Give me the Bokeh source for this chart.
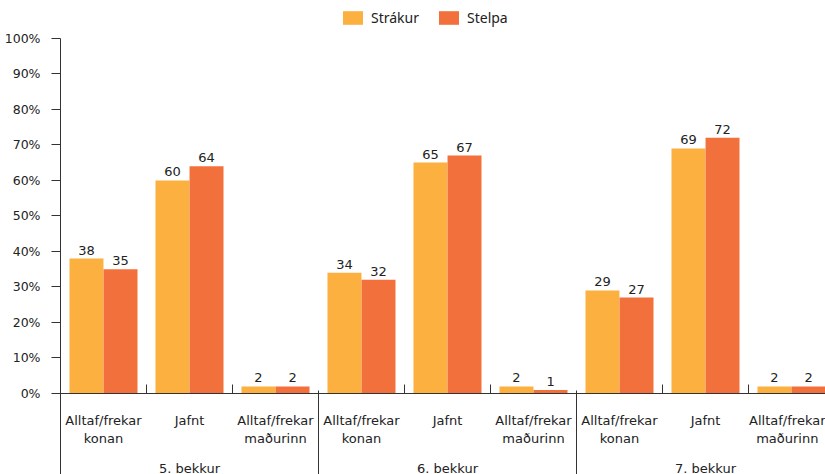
import numpy as np
from bokeh.plotting import figure
from bokeh.models import (Range1d, LinearAxis, FixedTicker, PrintfTickFormatter,
                          CustomJSTickFormatter, Legend, LegendItem, ColumnDataSource)
from bokeh.core.properties import value
from bokeh.embed import file_html
from bokeh.resources import INLINE

# ---- data ----
groups = ["5. bekkur", "6. bekkur", "7. bekkur"]
answers = ["Alltaf/frekar\nkonan", "Jafnt", "Alltaf/frekar\nmaðurinn"]
series = ["Strákur", "Stelpa"]
strakur = [38, 60, 2, 34, 65, 2, 29, 69, 2]
stelpa = [35, 64, 2, 32, 67, 1, 27, 72, 2]
y_ticks = [0, 10, 20, 30, 40, 50, 60, 70, 80, 90, 100]
colors = ["#FBB040", "#F2703C"]

n_cat = len(groups) * len(answers)
idx = np.arange(n_cat)
centers = idx + 0.5
dodge = 0.198
bar_w = 0.395

PX_PER_UNIT_X = 86.0
PX_PER_UNIT_Y = 3.552
FRAME_W = 765
FRAME_H = 393

p = figure(width=825, height=474, output_backend="svg", toolbar_location=None,
           x_range=Range1d(0, FRAME_W / PX_PER_UNIT_X),
           y_range=Range1d(0, FRAME_H / PX_PER_UNIT_Y),
           frame_width=FRAME_W, frame_height=FRAME_H,
           min_border_left=60, min_border_right=0, min_border_top=0, min_border_bottom=81,
           x_axis_location=None, y_axis_location=None)
p.outline_line_color = None
p.xgrid.visible = False
p.ygrid.visible = False
p.background_fill_color = "white"

src = ColumnDataSource(dict(x1=centers - dodge, x2=centers + dodge,
                            s=strakur, g=stelpa,
                            ts=[str(v) for v in strakur], tg=[str(v) for v in stelpa]))
r1 = p.vbar(x="x1", top="s", width=bar_w, source=src, fill_color=colors[0], line_color=None)
r2 = p.vbar(x="x2", top="g", width=bar_w, source=src, fill_color=colors[1], line_color=None)

for xcol, ycol, tcol in (("x1", "s", "ts"), ("x2", "g", "tg")):
    p.text(x=xcol, y=ycol, text=tcol, source=src, text_align="center", text_baseline="bottom",
           y_offset=-4, text_font=value("DejaVu Sans"), text_font_size="13px", text_color="#222222")

axis_col = "#333333"
txt_col = "#222222"

# y axis
yax = LinearAxis(ticker=FixedTicker(ticks=y_ticks), formatter=PrintfTickFormatter(format="%d%%"),
                 bounds=(0, 100), major_tick_in=0, major_tick_out=9, minor_tick_line_color=None,
                 axis_line_color=axis_col, major_tick_line_color=axis_col,
                 major_label_standoff=11, major_label_text_font="DejaVu Sans",
                 major_label_text_font_size="12.5px", major_label_text_color=txt_col)
p.add_layout(yax, "left")

# category axis
bounds_inner = [float(i) for i in range(1, n_cat) if i % len(answers) != 0]
cat_labels = {float(c): answers[i % len(answers)] for i, c in enumerate(centers)}
ax_a = LinearAxis(ticker=FixedTicker(ticks=list(centers), minor_ticks=bounds_inner),
                  major_label_overrides=cat_labels, major_tick_in=0, major_tick_out=0,
                  major_tick_line_color=None, minor_tick_in=9, minor_tick_out=0,
                  minor_tick_line_color=axis_col, axis_line_color=axis_col,
                  major_label_standoff=19, major_label_text_font="DejaVu Sans",
                  major_label_text_font_size="13px", major_label_text_color=txt_col,
                  major_label_text_line_height=1.25)
p.add_layout(ax_a, "below")

# group axis
g_centers = [i * len(answers) + len(answers) / 2 for i in range(len(groups))]
ax_c = LinearAxis(ticker=FixedTicker(ticks=g_centers, minor_ticks=[]),
                  major_label_overrides={float(c): groups[i] for i, c in enumerate(g_centers)},
                  major_tick_in=0, major_tick_out=0, major_tick_line_color=None,
                  axis_line_color=None, major_label_standoff=11,
                  major_label_text_font="DejaVu Sans", major_label_text_font_size="13px",
                  major_label_text_color=txt_col)
p.add_layout(ax_c, "below")

# group separators
g_bounds = [i * len(answers) for i in range(len(groups) + 1)]
ax_b = LinearAxis(ticker=FixedTicker(ticks=g_bounds, minor_ticks=[]),
                  formatter=CustomJSTickFormatter(code="return ''"),
                  major_tick_in=88, major_tick_out=2, major_tick_line_color=axis_col,
                  axis_line_color=None, major_label_standoff=0,
                  major_label_text_font_size="1px")
p.add_layout(ax_b, "below")

legend = Legend(items=[LegendItem(label=series[0], renderers=[r1]),
                       LegendItem(label=series[1], renderers=[r2])],
                location=(280, 366), orientation="horizontal", glyph_width=25, glyph_height=17,
                label_height=17, label_standoff=6, spacing=17, padding=0, margin=0,
                border_line_color=None, background_fill_alpha=0,
                label_text_font="Noto Sans", label_text_font_size="14px", label_text_color=txt_col)
p.add_layout(legend)

open("out.html", "w").write(file_html(p, INLINE))
